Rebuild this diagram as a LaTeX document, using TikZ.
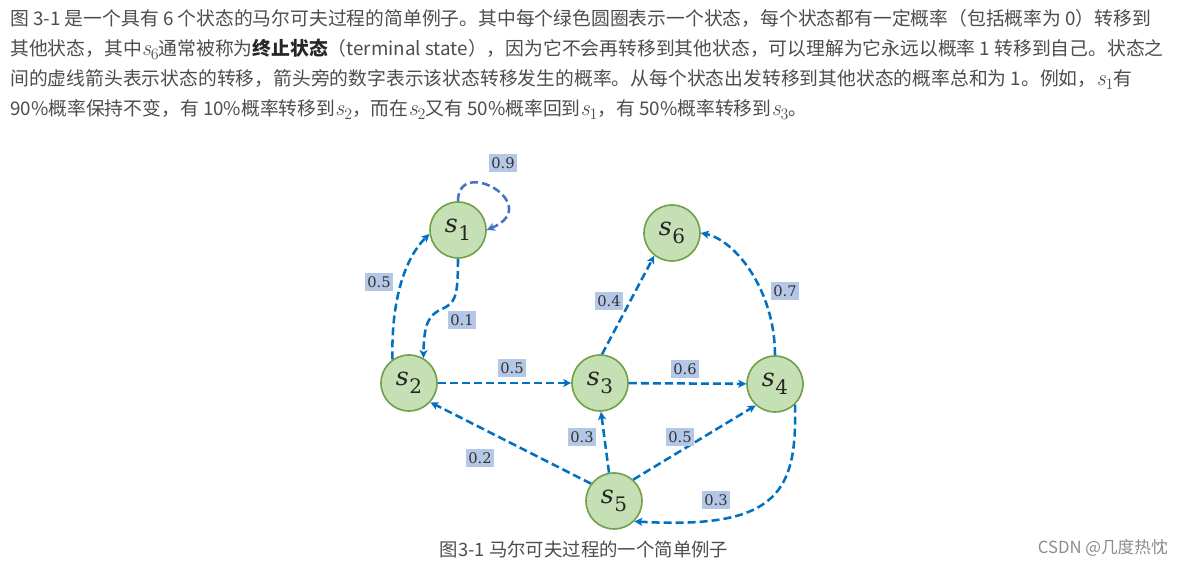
\documentclass[tikz,border=0pt]{standalone}
\usepackage{fontspec}
\usetikzlibrary{arrows.meta}
\newfontfamily\cjk{Noto Sans CJK SC}
\newfontfamily\lblfont{DejaVu Serif}
\definecolor{edgeblue}{RGB}{0,112,192}
\definecolor{loopblue}{RGB}{68,114,196}
\definecolor{nodefill}{RGB}{197,224,180}
\definecolor{nodedraw}{RGB}{112,160,72}
\definecolor{lblfill}{RGB}{180,199,231}
\definecolor{bodytext}{RGB}{77,77,77}
\definecolor{marktext}{RGB}{140,140,140}
\newcommand\stn[1]{{\lblfont\itshape s}\kern0.5pt\raisebox{-6pt}{\lblfont\fontsize{15}{15}\selectfont #1}}
\newcommand\sv[1]{{\rmfamily\fontsize{17}{17}\selectfont\itshape s}\raisebox{-3pt}{\rmfamily\fontsize{12}{12}\selectfont #1}}
\tikzset{
  state/.style={circle, minimum size=42pt, inner sep=0pt, fill=nodefill, draw=nodedraw, line width=1.2pt, text=black!85, font=\fontsize{19}{19}\selectfont},
  lbl/.style={fill=lblfill, inner xsep=1.4pt, inner ysep=1.5pt, minimum height=14pt, text=black!80, font=\lblfont\fontsize{11}{11}\selectfont},
  trans/.style={draw=edgeblue, line width=1.9pt, dash pattern=on 6pt off 3pt, -{Stealth[length=6pt,width=6pt,inset=1.5pt]}},
  para/.style={inner sep=0pt, anchor=base west, text=bodytext, font=\cjk\fontsize{14.1}{16}\selectfont},
}
\begin{document}
\begin{tikzpicture}[x=0.75pt,y=0.75pt]
\useasboundingbox (0,0) rectangle (1183,-566);
\fill[white] (0,0) rectangle (1183,-566);

% paragraph
\node[para] (l1) at (10,-26) {图 3-1 是一个具有 6 个状态的马尔可夫过程的简单例子。其中每个绿色圆圈表示一个状态，每个状态都有一定概率（包括概率为 0）转移到};
\node[para] (l2) at (10,-56) {其他状态，其中\sv{6}通常被称为{\bfseries\color{black!85}终止状态}（terminal state），因为它不会再转移到其他状态，可以理解为它永远以概率 1 转移到自己。状态之};
\node[para] (l3) at (10,-86) {间的虚线箭头表示状态的转移，箭头旁的数字表示该状态转移发生的概率。从每个状态出发转移到其他状态的概率总和为 1。例如，\sv{1}有};
\node[para] (l4) at (10,-116) {90\%概率保持不变，有 10\%概率转移到\sv{2}，而在\sv{2}又有 50\%概率回到\sv{1}，有 50\%概率转移到\sv{3}。};

% states
\node[state] (s1) at (458,-230) {\stn{1}};
\node[state] (s2) at (409,-383) {\stn{2}};
\node[state] (s3) at (600,-383) {\stn{3}};
\node[state] (s4) at (775,-384) {\stn{4}};
\node[state] (s5) at (614,-501) {\stn{5}};
\node[state] (s6) at (672,-233) {\stn{6}};

% transitions
\draw[trans, draw=loopblue] (s1.north) .. controls (458,-155) and (545,-205) .. (s1.east);
\draw[trans] (s2.125) .. controls (391,-300) and (405,-258) .. (s1.188);
\draw[trans] (s1.south) .. controls (458,-298) and (455,-303) .. (442,-309) .. controls (428,-315) and (424,-325) .. (s2.60);
\draw[trans] (s2) -- (s3);
\draw[trans] (s3) -- (s4);
\draw[trans] (s3.86) -- (s6.232);
\draw[trans] (s4.north) .. controls (775,-290) and (735,-240) .. (s6.east);
\draw[trans] (s5.143) -- (s2.-42);
\draw[trans] (s5.100) -- (s3.272);
\draw[trans] (s5.48) -- (s4.228);
\draw[trans] (s4.-46) .. controls (797,-490) and (780,-530) .. (s5.-45);

% labels
\node[lbl] (p11) at (503,-163) {0.9};
\node[lbl] (p21) at (379,-282) {0.5};
\node[lbl] (p12) at (462,-320) {0.1};
\node[lbl] (p23) at (512,-368) {0.5};
\node[lbl] (p36) at (609,-301) {0.4};
\node[lbl] (p34) at (685,-369) {0.6};
\node[lbl] (p46) at (785,-291) {0.7};
\node[lbl] (p53) at (582,-437) {0.3};
\node[lbl] (p54) at (680,-437) {0.5};
\node[lbl] (p52) at (480,-458) {0.2};
\node[lbl] (p45) at (716,-500) {0.3};

% caption and mark
\node[inner sep=0pt, text=bodytext, font=\cjk\fontsize{13.8}{16}\selectfont] (cap) at (584,-549) {图3-1 马尔可夫过程的一个简单例子};
\node[inner sep=0pt, anchor=east, text=marktext, font=\cjk\fontsize{12.5}{14}\selectfont] (mark) at (1168,-548) {CSDN @几度热忱};
\end{tikzpicture}
\end{document}
